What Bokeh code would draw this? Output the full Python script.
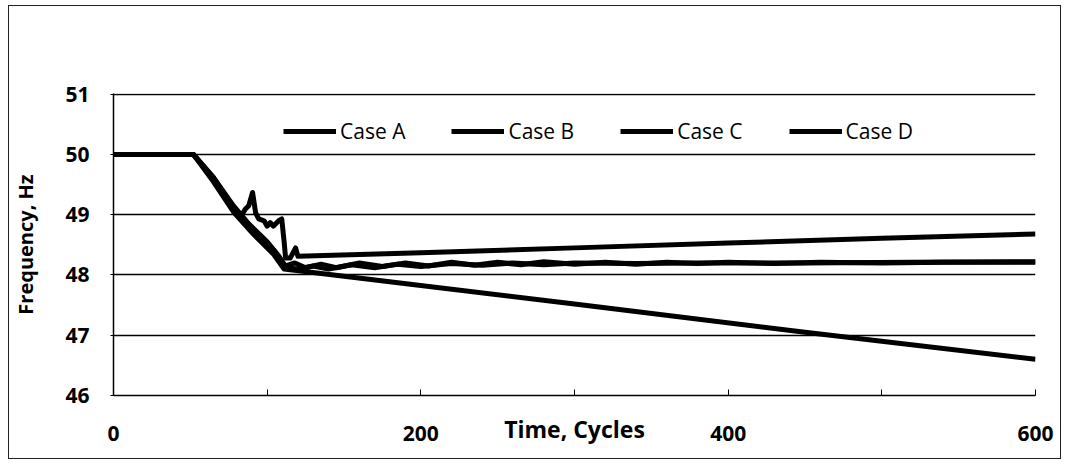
from bokeh.plotting import figure
from bokeh.models import FixedTicker, Legend, LegendItem, Range1d
from bokeh.embed import file_html
from bokeh.resources import INLINE

# ---- data ----
time_a = [0, 52, 65, 78, 91, 104, 111, 150, 300, 450, 600]
freq_a = [50, 50, 49.55, 49.05, 48.68, 48.35, 48.1, 47.98, 47.52, 47.05, 46.6]

time_b = [0, 52, 65, 78, 91, 104, 112, 118, 125, 135, 145, 160, 175, 190, 205, 220, 235,
          250, 265, 280, 300, 320, 340, 360, 380, 400, 430, 460, 500, 540, 600]
freq_b = [50, 50, 49.6, 49.1, 48.75, 48.42, 48.15, 48.2, 48.12, 48.18, 48.12, 48.2, 48.14,
          48.2, 48.15, 48.21, 48.16, 48.21, 48.17, 48.22, 48.18, 48.21, 48.18, 48.21, 48.19,
          48.21, 48.19, 48.21, 48.2, 48.21, 48.21]

time_c = [0, 52, 65, 78, 83, 86, 88, 90.5, 92.5, 94.5, 98, 100, 102, 104, 107.5, 109.5,
          111, 112, 115, 118.5, 120, 200, 300, 400, 500, 600]
freq_c = [50, 50, 49.62, 49.12, 48.98, 49.1, 49.15, 49.37, 49.03, 48.93, 48.9, 48.81, 48.87,
          48.81, 48.9, 48.93, 48.56, 48.28, 48.28, 48.45, 48.31, 48.37, 48.45, 48.53, 48.61, 48.68]

time_d = [0, 52, 65, 78, 88, 100, 108, 112, 120, 130, 140, 155, 170, 185, 200, 220, 240,
          260, 280, 300, 340, 380, 450, 520, 600]
freq_d = [50, 50, 49.62, 49.15, 48.85, 48.55, 48.3, 48.12, 48.1, 48.15, 48.1, 48.17, 48.12,
          48.18, 48.14, 48.19, 48.16, 48.2, 48.17, 48.2, 48.19, 48.2, 48.2, 48.21, 48.22]

series_names = ["Case A", "Case B", "Case C", "Case D"]
x_ticks = [0, 100, 200, 300, 400, 500, 600]
x_tick_labels = {100: "", 300: "", 500: ""}
y_ticks = [46, 47, 48, 49, 50, 51]
x_title = "Time, Cycles"
y_title = "Frequency, Hz"

FONT = "Open Sans"

# canvas placed inside an outer border (chart area border of the original)
p = figure(width=1053, height=454, output_backend="svg", toolbar_location=None,
           x_range=Range1d(0, 600), y_range=Range1d(46, 51.012),
           min_border_left=104, min_border_right=27, min_border_top=87, min_border_bottom=65)
p.margin = (5, 0, 0, 8)
p.styles = {"border": "1px solid #222222"}
p.outline_line_color = None
p.background_fill_color = "white"
p.border_fill_color = "white"

# grid
p.xgrid.grid_line_color = None
p.ygrid.grid_line_color = "black"
p.ygrid.grid_line_width = 1.5
p.ygrid.ticker = FixedTicker(ticks=y_ticks)

# x axis
xa = p.xaxis[0]
xa.ticker = FixedTicker(ticks=x_ticks)
xa.major_label_overrides = x_tick_labels
xa.major_tick_in = 6
xa.major_tick_out = 0
xa.minor_tick_line_color = None
xa.axis_line_color = "black"
xa.axis_line_width = 1.5
xa.major_tick_line_color = "black"
xa.major_label_standoff = 30
xa.major_label_text_font = FONT
xa.major_label_text_font_style = "bold"
xa.major_label_text_font_size = "21px"
xa.major_label_text_color = "black"
xa.axis_label = x_title
xa.axis_label_text_font = FONT
xa.axis_label_text_font_style = "bold"
xa.axis_label_text_font_size = "23px"
xa.axis_label_text_color = "black"
xa.axis_label_standoff = -31

# y axis
ya = p.yaxis[0]
ya.ticker = FixedTicker(ticks=y_ticks)
ya.major_tick_in = 0
ya.major_tick_out = 3
ya.minor_tick_line_color = None
ya.axis_line_color = "black"
ya.axis_line_width = 1.5
ya.major_tick_line_color = "black"
ya.major_label_standoff = 21
ya.major_label_text_font = FONT
ya.major_label_text_font_style = "bold"
ya.major_label_text_font_size = "21px"
ya.major_label_text_color = "black"
ya.axis_label = y_title
ya.axis_label_text_font = FONT
ya.axis_label_text_font_style = "bold"
ya.axis_label_text_font_size = "20px"
ya.axis_label_text_color = "black"
ya.axis_label_standoff = 23

# lines
renderers = []
for xs, ys in [(time_a, freq_a), (time_b, freq_b), (time_c, freq_c), (time_d, freq_d)]:
    r = p.line(xs, ys, line_color="black", line_width=5, line_join="round")
    renderers.append(r)

legend = Legend(items=[LegendItem(label=n, renderers=[r]) for n, r in zip(series_names, renderers)],
                orientation="horizontal", location=(170, 250),
                background_fill_alpha=0, border_line_color=None,
                padding=0, margin=0, spacing=46, glyph_width=53, glyph_height=22,
                label_standoff=4, label_height=22,
                label_text_font=FONT, label_text_font_size="21px", label_text_color="black")
p.add_layout(legend, "center")

open("out.html", "w").write(file_html(p, INLINE))
